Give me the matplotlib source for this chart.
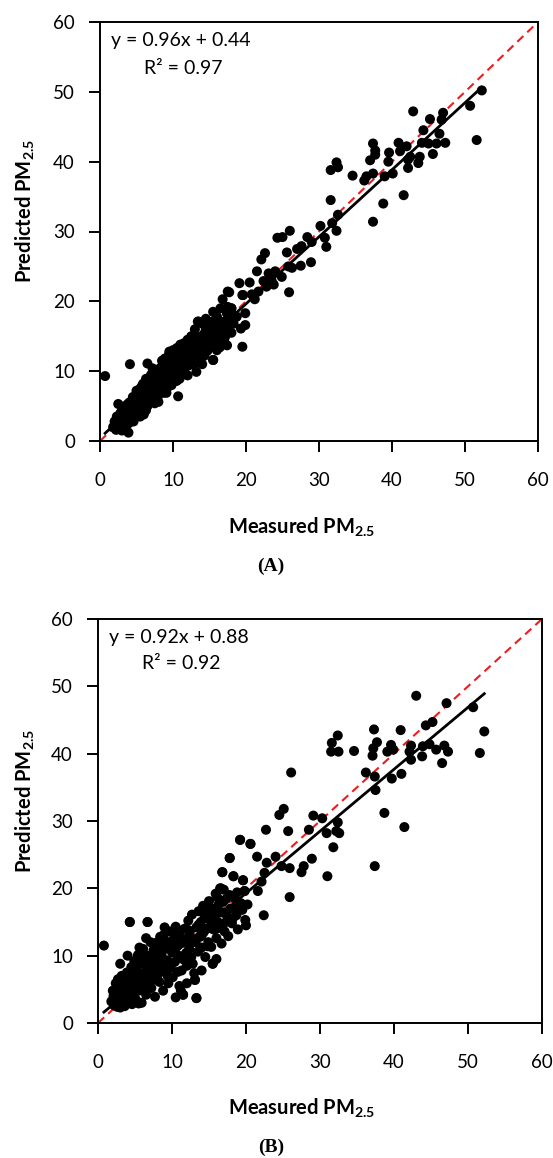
import numpy as np
import matplotlib
matplotlib.use("Agg")
import matplotlib.pyplot as plt

plt.rcParams['font.family'] = ['Lato', 'DejaVu Sans']
plt.rcParams['mathtext.fontset'] = 'custom'
plt.rcParams['mathtext.rm'] = 'Lato'
plt.rcParams['mathtext.bf'] = 'Lato:bold'

# ---- panel A : measured vs predicted ----
measured_a = [
    52.3, 50.7, 51.6, 42.9, 47.0, 45.2, 46.8, 44.3, 46.5, 44.1,
    45.0, 46.1, 47.3, 45.6, 40.9, 42.0, 37.4, 37.7, 37.7, 39.6,
    39.5, 41.1, 42.5, 42.2, 43.8, 43.6, 42.2, 37.0, 37.4, 36.5,
    36.2, 39.0, 40.1, 41.6, 38.8, 37.4, 34.6, 32.4, 31.6, 32.6,
    31.6, 32.6, 32.4, 31.8, 30.2, 30.8, 31.0, 28.4, 27.6, 28.9,
    27.5, 26.0, 25.0, 24.3, 25.6, 25.8, 26.3, 24.9, 25.9, 24.0,
    23.1, 22.6, 22.1, 21.5, 22.4, 22.8, 21.7, 21.2, 20.5, 19.5,
    19.9, 19.9, 19.5, 18.7, 18.0, 17.4, 16.0, 14.8, 17.1, 15.5,
    0.7, 8.9, 29.0, 27.0, 23.5, 20.8, 23.8,
    1.8, 2.2, 2.4, 2.6, 2.9, 3.1, 3.0, 3.3, 3.5, 3.6,
    3.8, 3.9, 4.0, 4.1, 4.2, 4.4, 4.5, 4.6, 4.8, 5.0,
    5.1, 5.2, 5.4, 5.5, 5.6, 5.8, 5.9, 6.0, 6.1, 6.3,
    6.4, 6.5, 6.6, 6.7, 6.9, 7.0, 7.1, 7.2, 7.3, 7.5,
    7.6, 7.7, 7.8, 8.0, 8.1, 8.2, 8.4, 8.5, 8.6, 8.8,
    8.9, 9.0, 9.1, 9.3, 9.4, 9.6, 9.7, 9.8, 10.0, 10.1,
    10.2, 10.4, 10.5, 10.6, 10.7, 10.8, 11.0, 11.1, 11.2, 11.4,
    11.5, 11.6, 11.8, 12.0, 12.1, 12.3, 12.4, 12.6, 12.7, 12.9,
    13.0, 13.1, 13.2, 13.3, 13.5, 13.6, 13.7, 13.9, 14.0, 14.1,
    14.3, 14.4, 14.6, 14.8, 14.9, 15.0, 15.2, 15.3, 15.5, 15.6,
    15.8, 15.9, 16.0, 16.2, 16.4, 16.5, 16.8, 16.9, 17.1, 17.2,
    17.4, 17.4, 17.6, 17.7, 17.9, 18.0, 18.3, 18.7, 19.1, 19.3,
    2.0, 2.3, 2.7, 2.8, 3.2, 3.4, 3.7, 4.0, 4.3, 4.5,
    4.7, 4.9, 5.0, 5.3, 5.5, 5.7, 5.9, 6.2, 6.3, 6.5,
    6.8, 7.0, 7.2, 7.4, 7.6, 7.9, 8.1, 8.3, 8.5, 8.7,
    9.0, 9.2, 9.4, 9.6, 9.9, 10.1, 10.3, 10.6, 10.9, 11.2,
    11.3, 11.7, 11.9, 12.2, 12.5, 12.8, 13.2, 13.4, 13.8, 14.2,
    14.5, 14.7, 15.1, 15.4, 15.7, 16.1, 16.6, 17.0, 17.5, 18.2,
    3.0, 6.0, 8.0, 12.0, 10.0, 9.5, 14.0, 16.0, 2.5, 11.0,
    12.5, 13.0, 14.0, 14.5, 15.5, 16.5, 12.0, 11.5, 10.5, 9.5,
    16.0, 17.0, 18.0, 13.4, 19.6, 17.5,
]
predicted_a = [
    50.2, 48.0, 43.1, 47.2, 47.0, 46.1, 46.0, 44.5, 44.0, 42.7,
    42.6, 42.6, 42.7, 41.1, 42.7, 42.2, 42.6, 41.6, 41.0, 41.3,
    40.0, 41.5, 40.7, 40.3, 40.7, 39.8, 39.1, 40.2, 38.3, 37.9,
    37.3, 37.9, 38.3, 35.2, 34.0, 31.4, 38.0, 39.9, 38.8, 39.2,
    34.5, 32.4, 30.1, 31.2, 30.8, 29.1, 27.8, 29.2, 27.9, 25.6,
    25.1, 30.1, 29.2, 29.1, 27.0, 25.0, 24.8, 23.5, 21.3, 24.3,
    24.0, 26.9, 26.0, 24.3, 22.9, 22.1, 21.4, 20.3, 22.7, 20.9,
    18.3, 16.6, 13.5, 17.8, 19.0, 18.3, 17.8, 17.1, 14.9, 11.6,
    9.3, 11.8, 28.5, 27.5, 23.0, 21.0, 22.4,
    2.0, 1.6, 3.1, 2.2, 3.6, 2.5, 4.3, 3.0, 4.8, 2.1,
    3.9, 1.2, 5.5, 11.0, 3.4, 4.6, 6.3, 2.8, 5.2, 4.0,
    6.8, 5.6, 3.9, 7.5, 4.8, 6.0, 8.2, 5.1, 7.0, 4.4,
    6.5, 11.1, 8.6, 5.7, 7.4, 9.5, 6.2, 10.4, 8.0, 5.4,
    7.0, 9.0, 6.6, 8.3, 10.0, 7.2, 9.1, 11.5, 7.8, 9.8,
    11.8, 8.4, 6.9, 10.3, 8.9, 9.7, 11.0, 8.0, 10.4, 9.1,
    12.2, 10.0, 8.6, 11.3, 6.4, 10.5, 12.6, 9.6, 11.0, 12.0,
    10.2, 13.3, 11.4, 12.3, 10.8, 13.0, 11.6, 14.0, 12.2, 10.9,
    13.4, 14.8, 9.9, 12.3, 17.1, 13.8, 12.8, 15.0, 13.2, 14.3,
    12.2, 15.6, 14.0, 17.1, 13.3, 15.2, 14.1, 16.0, 11.6, 15.0,
    16.7, 14.3, 17.8, 15.6, 13.4, 16.5, 20.3, 15.2, 14.9, 17.2,
    18.3, 13.7, 16.3, 21.3, 17.6, 19.0, 16.8, 17.8, 22.6, 16.1,
    2.8, 3.5, 1.8, 4.0, 3.7, 2.4, 5.2, 2.6, 4.2, 3.2,
    6.0, 4.5, 7.2, 5.0, 3.5, 7.8, 5.4, 6.6, 8.9, 5.0,
    6.8, 7.8, 5.9, 9.2, 7.5, 6.3, 8.8, 10.5, 8.0, 6.9,
    9.5, 7.6, 11.3, 8.5, 10.0, 11.8, 9.2, 10.4, 8.9, 12.4,
    10.5, 11.0, 13.0, 11.5, 12.8, 11.4, 13.9, 11.8, 14.5, 13.7,
    16.3, 12.9, 15.8, 14.6, 17.2, 15.0, 17.0, 16.0, 19.2, 18.0,
    1.5, 3.8, 5.6, 9.4, 13.0, 12.5, 11.0, 14.3, 5.3, 13.8,
    15.0, 16.0, 16.8, 17.5, 18.5, 19.0, 14.5, 14.0, 13.3, 12.8,
    13.0, 14.5, 15.5, 17.1, 20.9, 21.4,
]

# ---- panel B ----
measured_b = [
    43.0, 47.1, 50.7, 52.2, 51.6, 45.2, 44.3, 37.3, 40.9, 32.4,
    31.6, 31.5, 32.5, 34.6, 37.7, 37.2, 37.1, 39.1, 39.6, 39.9,
    42.3, 42.1, 42.3, 43.8, 43.9, 44.8, 45.7, 46.8, 47.3, 46.5,
    41.0, 39.7, 36.2, 37.4, 37.5, 38.7, 41.4, 37.4, 26.1, 25.1,
    24.5, 22.7, 25.7, 29.1, 30.3, 28.5, 32.4, 32.2, 30.9, 32.6,
    31.8, 28.9, 31.0, 27.8, 27.5, 25.9, 24.8, 24.0, 21.5, 22.8,
    22.5, 22.1, 21.6, 25.9, 22.4, 19.2, 20.6, 17.8, 16.8, 18.3,
    19.6, 16.5, 19.8, 4.3, 6.7, 0.8, 13.3, 15.5, 13.1, 11.5,
    1.8, 2.0, 2.2, 2.4, 2.5, 2.7, 2.9, 3.0, 3.1, 3.3,
    3.4, 3.5, 3.6, 3.8, 3.9, 4.0, 4.2, 4.3, 4.4, 4.5,
    4.6, 4.8, 4.9, 5.0, 5.1, 5.3, 5.4, 5.5, 5.6, 5.8,
    5.9, 6.0, 6.1, 6.2, 6.4, 6.5, 6.6, 6.7, 6.8, 7.0,
    7.1, 7.2, 7.3, 7.5, 7.6, 7.7, 7.9, 8.0, 8.1, 8.3,
    8.4, 8.5, 8.7, 8.8, 8.9, 9.0, 9.2, 9.3, 9.5, 9.6,
    9.7, 9.8, 10.0, 10.1, 10.2, 10.4, 10.5, 10.6, 10.8, 10.9,
    11.0, 11.2, 11.3, 11.5, 11.6, 11.7, 11.9, 12.0, 12.2, 12.3,
    12.4, 12.6, 12.7, 12.9, 13.0, 13.1, 13.3, 13.3, 13.5, 13.6,
    13.8, 13.9, 14.0, 14.2, 14.3, 14.5, 14.6, 14.7, 14.9, 15.0,
    15.1, 15.3, 15.4, 15.5, 15.6, 15.8, 15.9, 16.0, 16.2, 16.3,
    16.5, 16.6, 16.7, 16.8, 16.9, 17.1, 17.3, 17.5, 17.6, 17.8,
    17.9, 18.1, 18.3, 18.5, 18.7, 18.9, 19.2, 19.3, 19.6, 19.8,
    19.9, 20.2, 20.6, 20.0, 19.5, 18.8, 18.2, 17.0, 16.1, 15.2,
    2.1, 2.6, 2.8, 3.2, 3.5, 3.7, 4.1, 4.4, 4.7, 5.0,
    5.2, 5.5, 5.7, 6.0, 6.3, 6.6, 6.9, 7.2, 7.4, 7.8,
    8.0, 8.2, 8.6, 8.8, 9.1, 9.4, 9.7, 10.0, 10.3, 10.7,
    11.0, 11.3, 11.6, 11.9, 12.2, 12.5, 12.8, 13.2, 13.6, 14.0,
    14.4, 14.8, 15.2, 15.6, 16.0, 16.4, 16.9, 17.3, 17.8, 18.4,
    3.0, 4.0, 5.6, 6.5, 9.0, 12.0, 14.0, 16.0, 11.0, 10.5,
]
predicted_b = [
    48.6, 47.5, 46.9, 43.3, 40.1, 44.7, 44.2, 43.6, 43.5, 42.7,
    41.6, 40.3, 40.3, 40.4, 41.7, 40.8, 39.7, 40.3, 41.3, 40.6,
    41.2, 40.3, 39.1, 39.6, 41.1, 41.4, 40.6, 41.2, 40.3, 38.6,
    37.0, 36.3, 37.2, 36.6, 34.6, 31.2, 29.1, 23.3, 37.2, 31.8,
    30.9, 28.7, 28.5, 30.8, 30.4, 28.7, 29.8, 28.5, 28.2, 28.2,
    26.1, 24.4, 21.8, 23.3, 22.4, 23.0, 23.3, 24.7, 24.7, 23.8,
    22.3, 21.0, 19.6, 18.7, 16.0, 27.2, 26.6, 24.5, 22.4, 21.8,
    21.2, 20.0, 19.6, 15.0, 15.0, 11.5, 3.7, 8.8, 6.4, 4.2,
    3.2, 4.8, 2.6, 5.9, 3.8, 6.5, 4.4, 2.3, 5.5, 3.1,
    6.4, 4.0, 2.5, 5.2, 7.5, 3.4, 6.0, 15.0, 4.5, 8.3,
    2.8, 6.9, 9.2, 5.3, 3.5, 7.8, 10.1, 4.8, 6.3, 9.0,
    3.0, 7.3, 11.0, 5.5, 8.6, 4.2, 10.0, 15.0, 6.8, 9.4,
    12.0, 5.2, 7.9, 10.8, 8.8, 3.9, 11.6, 7.0, 9.9, 6.1,
    12.8, 8.6, 10.7, 4.8, 13.1, 7.6, 11.4, 9.3, 5.9, 12.0,
    13.6, 8.2, 10.5, 6.8, 12.4, 9.1, 14.3, 11.3, 7.6, 10.0,
    13.0, 4.8, 11.9, 4.2, 9.4, 14.0, 12.5, 8.5, 15.2, 11.0,
    13.5, 9.8, 16.1, 12.3, 7.4, 6.4, 14.2, 3.7, 10.6, 16.6,
    12.8, 15.0, 11.2, 17.4, 13.5, 9.8, 16.2, 14.0, 12.0, 18.1,
    15.3, 11.3, 17.0, 8.8, 13.9, 16.1, 19.2, 12.6, 15.0, 17.6,
    14.2, 20.0, 11.8, 22.4, 16.4, 13.6, 18.4, 15.8, 12.9, 24.5,
    17.0, 14.8, 21.8, 18.5, 16.0, 13.9, 27.2, 17.8, 21.2, 19.6,
    15.3, 17.6, 26.6, 14.5, 16.8, 19.4, 15.5, 19.8, 18.7, 14.1,
    4.0, 2.4, 5.4, 7.0, 5.8, 3.6, 4.9, 6.7, 3.8, 8.0,
    6.2, 2.9, 5.0, 9.8, 6.5, 7.8, 5.5, 10.0, 6.4, 9.0,
    12.0, 7.7, 10.0, 11.8, 9.0, 7.0, 11.0, 8.8, 11.6, 13.2,
    9.8, 7.8, 12.0, 10.4, 13.8, 11.8, 8.8, 12.0, 14.6, 13.0,
    15.6, 11.4, 16.6, 15.0, 14.0, 16.4, 18.0, 15.0, 19.0, 17.0,
    8.8, 10.0, 11.2, 12.6, 14.2, 5.9, 7.8, 9.5, 5.5, 3.8,
]

fit_a = (0.96, 0.44, 0.97)
fit_b = (0.92, 0.88, 0.92)
ticks = [0, 10, 20, 30, 40, 50, 60]

W, H = 553, 1158
fig = plt.figure(figsize=(W / 100, H / 100), dpi=100)


def px_axes(left, top, right, bottom):
    return fig.add_axes([left / W, 1 - bottom / H, (right - left) / W, (bottom - top) / H])


def draw_panel(ax, xs, ys, fit):
    slope, icpt, r2 = fit
    ax.plot([0, 60], [0, 60], color='#ee1c1c', lw=1.5, ls=(0, (4, 2.6)), zorder=1)
    ax.scatter(xs, ys, s=52, color='black', edgecolors='none', zorder=2)
    xr = np.array([min(xs), max(xs)])
    ax.plot(xr, slope * xr + icpt, color='black', lw=2.0, zorder=3)
    ax.set_xlim(0, 60)
    ax.set_ylim(0, 60)
    ax.set_xticks(ticks)
    ax.set_yticks(ticks)
    for sp in ax.spines.values():
        sp.set_linewidth(1.4)
    ax.tick_params(axis='both', direction='out', length=8, width=1.4, labelsize=13.5)
    ax.tick_params(axis='x', pad=14)
    ax.tick_params(axis='y', pad=10)
    ax.text(0.025, 0.955, f"y = {slope:.2f}x + {icpt:.2f}", transform=ax.transAxes,
            fontsize=14, va='center', ha='left')
    ax.text(0.1, 0.89, f"R\u00b2 = {r2:.2f}", transform=ax.transAxes,
            fontsize=14, va='center', ha='left')


ax_a = px_axes(100, 22, 538, 441)
draw_panel(ax_a, measured_a, predicted_a, fit_a)
ax_b = px_axes(98, 619, 542, 1023)
draw_panel(ax_b, measured_b, predicted_b, fit_b)

xlabel = r"Measured PM$_{\mathbf{2.5}}$"
ylabel = r"Predicted PM$_{\mathbf{2.5}}$"
for lab_y, tag_y, ylab_y, tag in [(527, 566, 211, "(A)"), (1108, 1147, 801, "(B)")]:
    fig.text(302 / W, 1 - lab_y / H, xlabel, fontsize=14.5, fontweight='bold',
             ha='center', va='center')
    fig.text(25 / W, 1 - ylab_y / H, ylabel, fontsize=14.5, fontweight='bold',
             ha='center', va='center', rotation=90)
    fig.text(271 / W, 1 - tag_y / H, tag, fontsize=14, fontweight='bold',
             family='Liberation Serif', ha='center', va='center')

fig.savefig("out.png", dpi=100)
